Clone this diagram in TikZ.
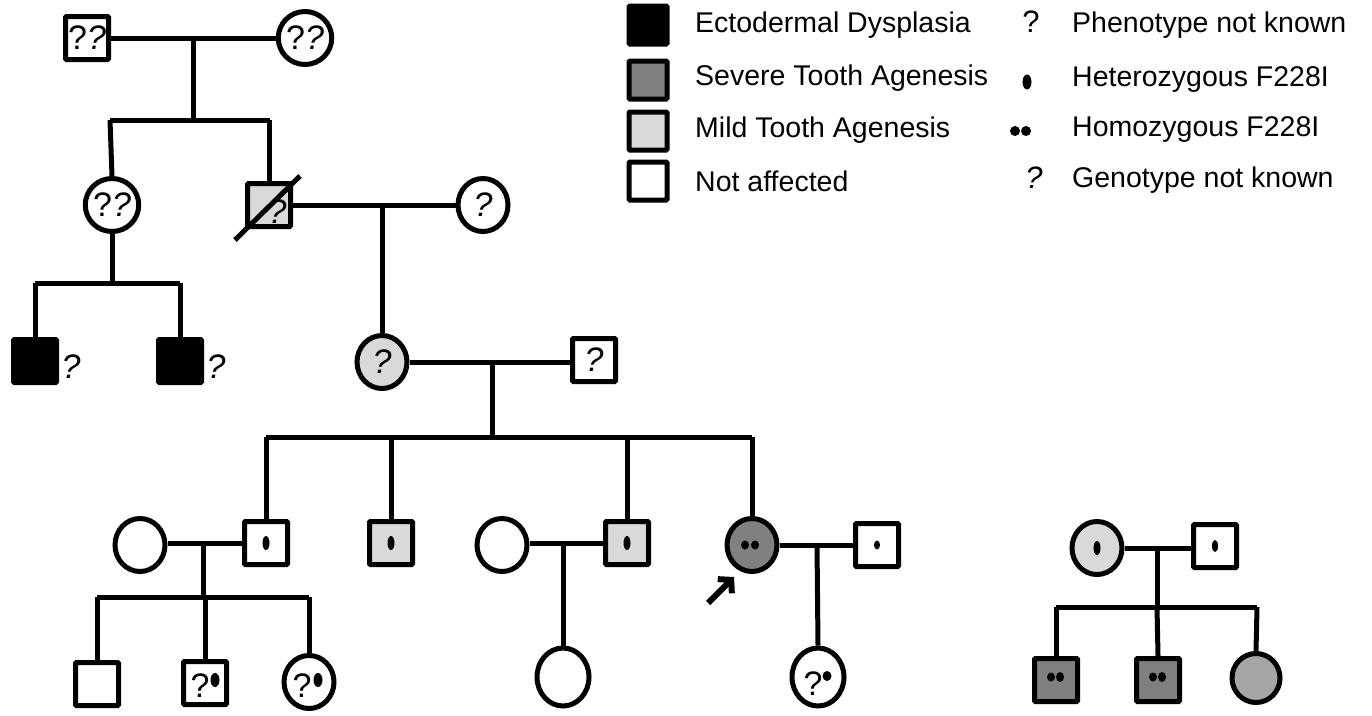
\documentclass[tikz,border=0pt]{standalone}
\usepackage{fontspec}
\setmainfont{Liberation Sans}
\usetikzlibrary{shapes.geometric,arrows.meta}
\definecolor{mild}{HTML}{D9D9D9}
\definecolor{severe}{HTML}{808080}
\definecolor{midg}{HTML}{A6A6A6}
\begin{document}
\begin{tikzpicture}[x=1pt,y=-1pt,
  ln/.style={line width=5pt},
  sq/.style={draw, line width=5pt, rectangle, minimum size=43pt, inner sep=0pt, rounded corners=1pt, font=\fontsize{34}{34}\selectfont},
  ci/.style={draw, line width=5pt, ellipse, minimum width=50pt, minimum height=53pt, inner sep=0pt, font=\fontsize{34}{34}\selectfont},
  lsq/.style={draw, line width=5pt, rectangle, minimum size=38pt, inner sep=0pt, rounded corners=1pt},
  ltx/.style={anchor=west, inner sep=0pt, font=\fontsize{28.5}{30}\selectfont},
  qs/.style={inner sep=0pt, font=\fontsize{34}{34}\selectfont\itshape},
  qu/.style={inner sep=0pt, font=\fontsize{34}{34}\selectfont},
  dot/.style={fill=black}
]
\useasboundingbox (0,0) rectangle (1372,715);

% ---------- Generation I ----------
\node[sq] (A) at (87,38) {?\textit{?}};
\node[ci] (B) at (305,38) {?\textit{?}};
\draw[ln] (A.east) -- (B.west);
\coordinate (m1) at (193,38);
\coordinate (s1) at (193,120);
\coordinate (s1l) at (110,120);
\coordinate (s1r) at (270,120);
\draw[ln] (m1) -- (s1);
\draw[ln] (s1l) -- (s1r);

% ---------- Generation II ----------
\node[ci] (C) at (112,205) {?\textit{?}};
\node[sq, fill=mild] (D) at (269,205) {};
\node[qs] at (277,212) {?};
\node[ci] (E) at (483,205) {\textit{?}};
\draw[ln] (s1l) -- (C.north);
\draw[ln] (269,120) -- (D.north);
\draw[ln] (D.east) -- (E.west);
\draw[line width=5pt] (235,240) -- (300,176);
\coordinate (m2) at (382,205);

% left branch
\coordinate (s2) at (112,283);
\coordinate (s2l) at (35,283);
\coordinate (s2r) at (180,283);
\draw[ln] (C.south) -- (s2);
\draw[ln] (s2l) -- (s2r);
\node[sq, fill=black] (G1) at (35,361) {};
\node[sq, fill=black] (G2) at (180,361) {};
\draw[ln] (s2l) -- (G1.north);
\draw[ln] (s2r) -- (G2.north);
\node[qs] (gq1) at (71,367) {?};
\node[qs] (gq2) at (216,367) {?};

% ---------- Generation III ----------
\node[ci, fill=mild] (F) at (382,362) {\textit{?}};
\node[sq] (H) at (594,360) {\textit{?}};
\draw[ln] (m2) -- (F.north);
\draw[ln] (F.east) -- (H.west |- F.east);
\coordinate (m3) at (492,362);
\coordinate (s3) at (492,437);
\draw[ln] (m3) -- (s3);
\draw[ln] (266,437) coordinate (s3a) -- (752,437) coordinate (s3d);

% ---------- Generation IV ----------
\node[ci] (I1) at (140,545) {};
\node[sq] (I2) at (266,543) {};
\node[sq, fill=mild] (I3) at (391,543) {};
\node[ci] (I4) at (502,545) {};
\node[sq, fill=mild] (I5) at (627,543) {};
\node[ci, fill=severe] (I6) at (752,545) {};
\node[sq] (I7) at (877,545) {};
\draw[ln] (s3a) -- (I2.north);
\draw[ln] (391,437) -- (I3.north);
\draw[ln] (627,437) -- (I5.north);
\draw[ln] (s3d) -- (I6.north);
\draw[ln] (I1.east |- I2.west) -- (I2.west);
\draw[ln] (I4.east |- I5.west) -- (I5.west);
\draw[ln] (I6.east) -- (I7.west);
% genotype dots
\fill[dot] (266,543) ellipse [x radius=3.5pt, y radius=7pt];
\fill[dot] (391,543) ellipse [x radius=3.5pt, y radius=7pt];
\fill[dot] (627,543) ellipse [x radius=3.5pt, y radius=7pt];
\fill[dot] (745,545) ellipse [x radius=4pt, y radius=4.5pt];
\fill[dot] (755,545) ellipse [x radius=4pt, y radius=4.5pt];
\fill[dot] (877,545) ellipse [x radius=3pt, y radius=4.5pt];
% proband arrow
\coordinate (arS) at (708,603);
\coordinate (arT) at (734,577);
\draw[line width=6pt, -{Straight Barb[length=9pt, width=20pt, line width=6pt]}] (arS) -- (arT);

% ---------- Generation V ----------
\coordinate (m4) at (203,543);
\coordinate (s4) at (203,597);
\draw[ln] (m4) -- (s4);
\draw[ln] (97,597) coordinate (s4a) -- (309,597) coordinate (s4c);
\node[sq] (V1) at (97,684) {};
\node[sq] (V2) at (205,683) {};
\node[ci] (V3) at (309,682) {};
\draw[ln] (s4a) -- (V1.north);
\draw[ln] (205,597) -- (V2.north);
\draw[ln] (s4c) -- (V3.north);
\node[qu] at (200,686) {?};
\fill[dot] (215,680) ellipse [x radius=4.5pt, y radius=7pt];
\node[qu] at (302,686) {?};
\fill[dot] (318,680) ellipse [x radius=4.5pt, y radius=7pt];

\node[ci, minimum width=52pt, minimum height=58pt] (V4) at (563,677) {};
\coordinate (m5) at (563,543);
\draw[ln] (m5) -- (V4.north);

\node[ci, minimum width=52pt, minimum height=58pt] (V5) at (818,677) {};
\coordinate (m6) at (817,545);
\draw[ln] (m6) -- (V5.north);
\node[qu] at (813,684) {?};
\fill[dot] (827,676) ellipse [x radius=4.5pt, y radius=5pt];

% ---------- Right family ----------
\node[ci, fill=mild] (R1) at (1097,548) {};
\node[sq] (R2) at (1215,546) {};
\draw[ln] (R1.east) -- (R2.west |- R1.east);
\fill[dot] (1097,548) ellipse [x radius=3.5pt, y radius=7pt];
\fill[dot] (1215,546) ellipse [x radius=3pt, y radius=6pt];
\coordinate (m7) at (1157,548);
\coordinate (s7) at (1157,607);
\draw[ln] (m7) -- (s7);
\draw[ln] (1056,607) coordinate (s7a) -- (1257,607) coordinate (s7c);
\node[sq, fill=severe] (R3) at (1056,680) {};
\node[sq, fill=severe] (R4) at (1158,680) {};
\node[ci, fill=midg, minimum width=48pt, minimum height=49pt] (R5) at (1256,678) {};
\draw[ln] (s7a) -- (R3.north);
\draw[ln] (s7) -- (R4.north);
\draw[ln] (s7c) -- (R5.north);
\fill[dot] (1051,677) ellipse [x radius=4pt, y radius=4.5pt];
\fill[dot] (1060,677) ellipse [x radius=4pt, y radius=5pt];
\fill[dot] (1153,677) ellipse [x radius=4pt, y radius=4.5pt];
\fill[dot] (1162,677) ellipse [x radius=4pt, y radius=5pt];

% ---------- Legend ----------
\node[lsq, fill=black] (L1) at (648,25) {};
\node[lsq, fill=severe] (L2) at (648,80) {};
\node[lsq, fill=mild] (L3) at (648,131) {};
\node[lsq] (L4) at (648,181) {};
\node[ltx] (T1) at (695,25) {Ectodermal Dysplasia};
\node[ltx] (T2) at (695,78) {Severe Tooth Agenesis};
\node[ltx] (T3) at (695,130) {Mild Tooth Agenesis};
\node[ltx] (T4) at (695,181) {Not affected};

\node[inner sep=0pt, font=\fontsize{31}{31}\selectfont] (Q1) at (1031,22) {?};
\fill[dot] (1027,82) ellipse [x radius=4.5pt, y radius=7.5pt];
\fill[dot] (1015,131) ellipse [x radius=5pt, y radius=5pt];
\fill[dot] (1026,131) ellipse [x radius=5pt, y radius=5pt];
\node[inner sep=0pt, font=\fontsize{31}{31}\selectfont\itshape] (Q2) at (1034,178) {?};
\node[ltx] (U1) at (1072,25) {Phenotype not known};
\node[ltx] (U2) at (1072,80) {Heterozygous F228I};
\node[ltx] (U3) at (1072,130) {Homozygous F228I};
\node[ltx] (U4) at (1072,180) {Genotype not known};
\end{tikzpicture}
\end{document}
